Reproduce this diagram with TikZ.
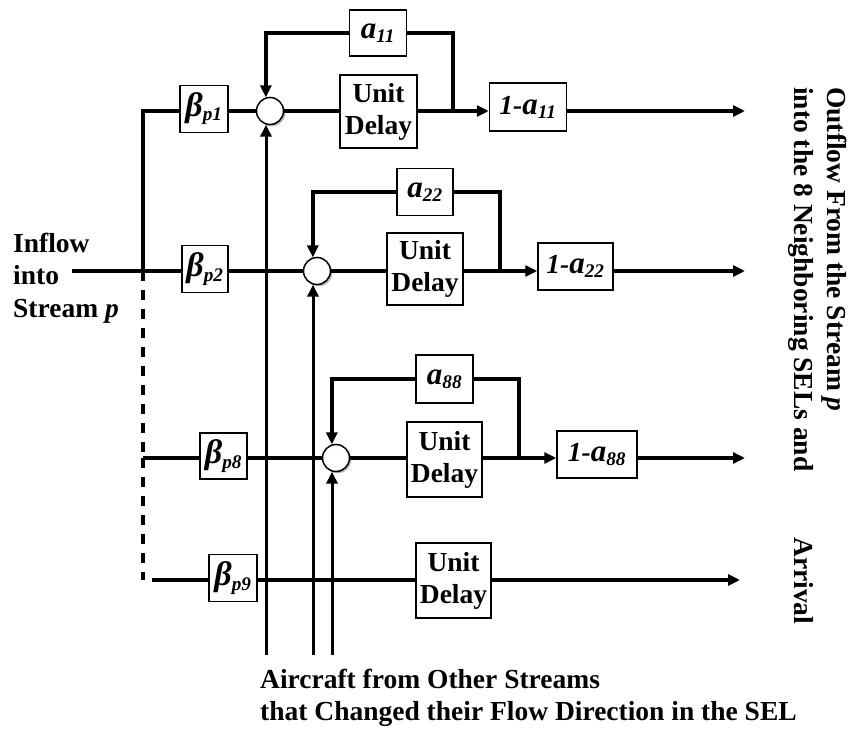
\documentclass[tikz,border=0pt]{standalone}
\usepackage{fontspec}
\setmainfont{Liberation Serif}
\usetikzlibrary{arrows.meta,shadows}
\newcommand{\bigb}{{\fontsize{34}{34}\selectfont β}}
\newcommand{\biga}{{\fontsize{31}{31}\selectfont a}}
\begin{document}
\begin{tikzpicture}[x=1pt,y=-1pt,
  every node/.style={font=\fontsize{27.5}{32}\selectfont\bfseries},
  blk/.style={draw,line width=1.5pt,fill=white,inner sep=0pt,align=center},
  sumc/.style={circle,draw,line width=1.5pt,fill=white,minimum size=27pt,inner sep=0pt,
    drop shadow={shadow xshift=1.8pt,shadow yshift=-1.8pt,fill=gray!70,opacity=0.8}},
  inl/.style={line width=3pt},
  mainl/.style={line width=3.5pt},
  postl/.style={line width=4.5pt},
  fbl/.style={line width=4pt},
  arr/.style={-{Triangle[length=12pt,width=11pt]}},
  lbl/.style={inner sep=0pt}
]
\useasboundingbox (0,0) rectangle (852,730);

% ---- coordinates
\coordinate (bus1) at (143,111);
\coordinate (bus2) at (143,271);
\coordinate (bus8) at (143,458);
\coordinate (bus9) at (143,580);
\coordinate (in) at (72,271);
\coordinate (r9) at (152,580);
\coordinate (j1) at (453,111);
\coordinate (j2) at (500,271);
\coordinate (j8) at (519,458);
\coordinate (e1) at (745,111);
\coordinate (e2) at (745,271);
\coordinate (e8) at (745,458);
\coordinate (e9) at (740,580);
\coordinate (v1) at (266,655);
\coordinate (v2) at (313,655);
\coordinate (v8) at (332,655);

% ---- blocks
\node[blk,minimum width=48pt,minimum height=47pt] (b1) at (204,109) {\itshape\bigb\textsubscript{p1}};
\node[blk,minimum width=46pt,minimum height=47pt] (b2) at (205,269) {\itshape\bigb\textsubscript{p2}};
\node[blk,minimum width=47pt,minimum height=46pt] (b8) at (223.5,456) {\itshape\bigb\textsubscript{p8}};
\node[blk,minimum width=48pt,minimum height=47pt] (b9) at (233,578) {\itshape\bigb\textsubscript{p9}};

\node[sumc] (s1) at (270,111) {};
\node[sumc] (s2) at (317,271) {};
\node[sumc] (s8) at (336,458) {};

\node[blk,minimum width=57pt,minimum height=46pt] (a1) at (378,33) {\itshape\biga\textsubscript{11}};
\node[blk,minimum width=56pt,minimum height=47pt] (a2) at (425,192) {\itshape\biga\textsubscript{22}};
\node[blk,minimum width=57pt,minimum height=48pt] (a8) at (444.5,379) {\itshape\biga\textsubscript{88}};

\node[blk,minimum width=77pt,minimum height=73pt] (u1) at (378.5,111.5) {Unit\\Delay};
\node[blk,minimum width=76pt,minimum height=72pt] (u2) at (425,269) {Unit\\Delay};
\node[blk,minimum width=75pt,minimum height=75pt] (u8) at (444.5,459.5) {Unit\\Delay};
\node[blk,minimum width=75pt,minimum height=75pt] (u9) at (453.5,580.5) {Unit\\Delay};

\node[blk,minimum width=77pt,minimum height=48pt] (o1) at (528,107) {\itshape 1-\biga\textsubscript{11}};
\node[blk,minimum width=75pt,minimum height=47pt] (o2) at (575.5,266.5) {\itshape 1-\biga\textsubscript{22}};
\node[blk,minimum width=80pt,minimum height=47pt] (o8) at (597,454.5) {\itshape 1-\biga\textsubscript{88}};

% ---- left bus
\draw[mainl] (b1.west |- bus1) -- (bus1) -- (bus2);
\draw[mainl,dash pattern=on 10pt off 9pt] (bus2) -- (bus8);
\draw[mainl,dash pattern=on 10pt off 9pt] (bus8) -- (bus9);

% ---- row 1
\draw[mainl] (b1.east |- s1) -- (s1.west);
\draw[postl] (s1.east) -- (u1.west |- s1);
\draw[postl] (u1.east |- s1) -- (j1);
\draw[postl,arr] (j1) -- (o1.west |- j1);
\draw[postl,arr] (o1.east |- e1) -- (e1);
\draw[fbl] (j1) |- (a1.east);
\draw[fbl,arr] (a1.west) -| (s1.107);

% ---- row 2
\draw[mainl] (in) -- (b2.west |- in);
\draw[mainl] (b2.east |- in) -- (s2.west);
\draw[postl] (s2.east) -- (u2.west |- s2);
\draw[postl] (u2.east |- s2) -- (j2);
\draw[postl,arr] (j2) -- (o2.west |- j2);
\draw[postl,arr] (o2.east |- e2) -- (e2);
\draw[fbl] (j2) |- (a2.east);
\draw[fbl,arr] (a2.west) -| (s2.107);

% ---- row 8
\draw[mainl] (bus8) -- (b8.west |- bus8);
\draw[mainl] (b8.east |- bus8) -- (s8.west);
\draw[postl] (s8.east) -- (u8.west |- s8);
\draw[postl] (u8.east |- s8) -- (j8);
\draw[postl,arr] (j8) -- (o8.west |- j8);
\draw[postl,arr] (o8.east |- e8) -- (e8);
\draw[fbl] (j8) |- (a8.east);
\draw[fbl,arr] (a8.west) -| (s8.107);

% ---- row 9
\draw[mainl] (r9) -- (b9.west |- r9);
\draw[mainl] (b9.east |- r9) -- (u9.west |- r9);
\draw[postl,arr] (u9.east |- e9) -- (e9);

% ---- incoming aircraft
\draw[inl,arr] (v1) -- (v1 |- s1.253);
\draw[inl,arr] (v2) -- (v2 |- s2.253);
\draw[inl,arr] (v8) -- (v8 |- s8.253);

% ---- texts
\node[lbl,anchor=base west] (t1) at (13,253) {Inflow};
\node[lbl,anchor=base west] (t2) at (13,285) {into};
\node[lbl,anchor=base west] (t3) at (13,317) {Stream \textit{p}};

\node[lbl,anchor=base west] (c1) at (260,688) {Aircraft from Other Streams};
\node[lbl,anchor=base west] (c2) at (260,720) {that Changed their Flow Direction in the SEL};

\node[lbl,rotate=-90,anchor=base west] (q1) at (827,87) {Outflow From the Stream \textit{p}};
\node[lbl,rotate=-90,anchor=base west] (q2) at (794,87) {into the 8 Neighboring SELs and};
\node[lbl,rotate=-90,anchor=base west] (q3) at (794,537) {Arrival};
\end{tikzpicture}
\end{document}
